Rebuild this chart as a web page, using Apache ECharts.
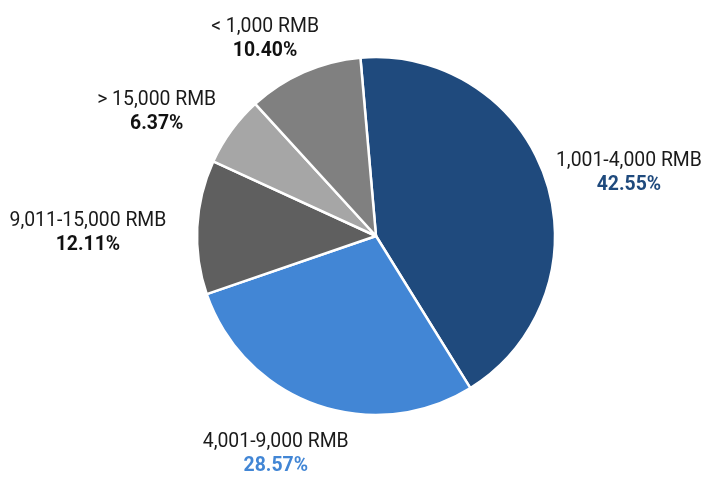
<!DOCTYPE html>
<html>
<head>
<meta charset="utf-8">
<script src="https://cdn.jsdelivr.net/npm/echarts@6/dist/echarts.min.js"></script>
<style>html,body{margin:0;padding:0;background:#fff;}#c{width:709px;height:484px;}</style>
</head>
<body>
<div id="c"></div>
<script>
const categories = ['1,001-4,000 RMB', '4,001-9,000 RMB', '9,011-15,000 RMB', '> 15,000 RMB', '< 1,000 RMB'];
const shares = [42.55, 28.57, 12.11, 6.37, 10.40];
const sliceColors = ['#1F4A7D', '#4286D5', '#5F5F5F', '#A6A6A6', '#808080'];
const pctStyles = ['pa', 'pb', 'pk', 'pk', 'pk'];

const CX = 376, CY = 236, R = 179, START = 95, LABEL_R = 202, LABEL_DX = -8, LABEL_DY = 8;
const total = shares.reduce((a, b) => a + b, 0);
const midAngles = [];
let cum = 0;
shares.forEach(v => { midAngles.push(START - (cum + v / 2) / total * 360); cum += v; });

const FS = 19.4, LH = 24;
const chart = echarts.init(document.getElementById('c'), null, {renderer: 'canvas'});
chart.setOption({
  animation: false,
  backgroundColor: '#ffffff',
  series: [{
    type: 'pie',
    center: [CX, CY],
    radius: R,
    startAngle: START,
    clockwise: true,
    avoidLabelOverlap: false,
    data: categories.map((n, i) => ({name: n, value: shares[i], itemStyle: {color: sliceColors[i]}})),
    itemStyle: {borderColor: '#ffffff', borderWidth: 2.5},
    emphasis: {disabled: true},
    labelLine: {show: false},
    label: {
      show: true,
      position: 'outside',
      formatter: p => '{n|' + p.name + '}\n{' + pctStyles[p.dataIndex] + '|' + p.value.toFixed(2) + '%}',
      rich: {
        n: {fontFamily: 'Roboto', fontSize: FS, color: '#1a1a1a', lineHeight: LH, align: 'center'},
        pa: {fontFamily: 'Roboto', fontSize: FS, fontWeight: 'bold', color: '#1F4A7D', lineHeight: LH, align: 'center'},
        pb: {fontFamily: 'Roboto', fontSize: FS, fontWeight: 'bold', color: '#4286D5', lineHeight: LH, align: 'center'},
        pk: {fontFamily: 'Roboto', fontSize: FS, fontWeight: 'bold', color: '#111111', lineHeight: LH, align: 'center'}
      }
    },
    labelLayout: function (params) {
      const a = midAngles[params.dataIndex] * Math.PI / 180;
      const ux = Math.cos(a), uy = -Math.sin(a);
      const w = params.labelRect.width, h = params.labelRect.height;
      return {
        x: CX + ux * LABEL_R + ux * w / 2 + LABEL_DX,
        y: CY + uy * LABEL_R + uy * h / 2 + LABEL_DY,
        align: 'center',
        verticalAlign: 'middle'
      };
    }
  }]
});
</script>
</body>
</html>
